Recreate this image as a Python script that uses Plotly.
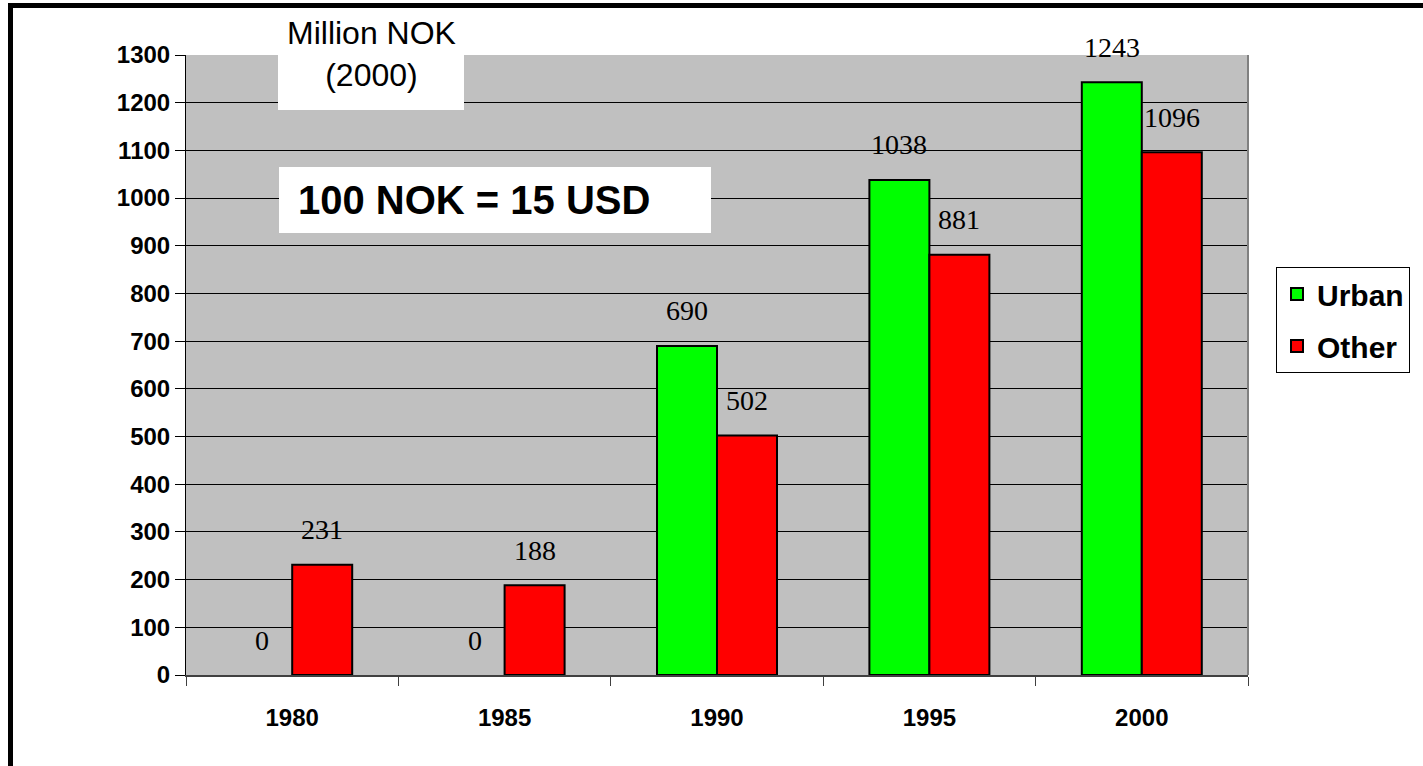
import plotly.graph_objects as go

years = ["1980", "1985", "1990", "1995", "2000"]
urban = [0, 0, 690, 1038, 1243]
other = [231, 188, 502, 881, 1096]
series_names = ["Urban", "Other"]
series_colors = ["#00FF00", "#FF0000"]
y_ticks = list(range(0, 1301, 100))

W, H = 1423, 766
L, R, T, B = 186, 175, 55, 91
pw, ph = W - L - R, H - T - B


def px_x(x):
    return (x - L) / pw


def px_y(y):
    return (H - B - y) / ph


fig = go.Figure()
for name, vals, col in zip(series_names, [urban, other], series_colors):
    fig.add_trace(go.Bar(
        x=years, y=[v if v else None for v in vals], name=name, legendgroup=name,
        marker=dict(color=col, line=dict(color="black", width=2)),
        hoverinfo="skip",
    ))

# data labels (x given as category index)
for vals, shift in zip([urban, other], [-30, 30]):
    for i, v in enumerate(vals):
        fig.add_annotation(
            x=i, y=v, xref="x", yref="y", text=str(v), showarrow=False,
            xshift=shift, yshift=35, yanchor="middle",
            font=dict(family="Liberation Serif", size=28, color="black"),
        )

shapes = [
    # outer frame
    dict(type="rect", xref="paper", yref="paper",
         x0=px_x(10.5), x1=1.4, y0=-0.4, y1=px_y(5.5),
         line=dict(color="black", width=5), fillcolor="rgba(0,0,0,0)", layer="above"),
    # right edge of plot area
    dict(type="line", xref="paper", yref="paper", x0=1, x1=1, y0=0, y1=1,
         line=dict(color="#808080", width=2), layer="above"),
    # white text boxes
    dict(type="rect", xref="paper", yref="paper",
         x0=px_x(278), x1=px_x(464), y0=px_y(110), y1=px_y(8),
         line=dict(width=0), fillcolor="white", layer="above"),
    dict(type="rect", xref="paper", yref="paper",
         x0=px_x(279), x1=px_x(711), y0=px_y(233), y1=px_y(167),
         line=dict(width=0), fillcolor="white", layer="above"),
]

fig.add_annotation(
    xref="paper", yref="paper", x=px_x(371), y=px_y(54), text="Million NOK<br>(2000)",
    showarrow=False, xanchor="center", yanchor="middle",
    font=dict(family="Liberation Sans", size=32, color="black"),
)
fig.add_annotation(
    xref="paper", yref="paper", x=px_x(296), y=px_y(200), text="<b>100 NOK = 15 USD</b>",
    showarrow=False, xanchor="left", yanchor="middle",
    font=dict(family="Liberation Sans", size=40, color="black"),
)

fig.update_layout(
    width=W, height=H,
    margin=dict(l=L, r=R, t=T, b=B, autoexpand=False),
    paper_bgcolor="white", plot_bgcolor="#C0C0C0",
    barmode="group", bargap=0.435, bargroupgap=0,
    shapes=shapes,
    showlegend=True,
    legend=dict(
        x=px_x(1276), y=px_y(267), xanchor="left", yanchor="top",
        bgcolor="white", bordercolor="black", borderwidth=1,
        font=dict(family="Liberation Sans", size=30, color="black", weight="bold"),
        tracegroupgap=10, traceorder="grouped",
    ),
    font=dict(family="Liberation Sans", color="black"),
    hovermode=False,
)
fig.update_xaxes(
    type="category", range=[-0.5, 4.5], showgrid=False, showline=True,
    linecolor="#404040", linewidth=2,
    ticks="outside", tickson="boundaries", ticklen=9, tickcolor="#404040",
    tickfont=dict(family="Liberation Sans", size=24, color="black", weight="bold"),
    ticklabelstandoff=20, tickangle=0,
)
fig.update_yaxes(
    range=[0, 1300], tickvals=y_ticks, showgrid=True, gridcolor="black", gridwidth=1,
    zeroline=False, showline=True, linecolor="black", linewidth=1,
    ticks="outside", ticklen=10, tickcolor="black",
    tickfont=dict(family="Liberation Sans", size=24, color="black", weight="bold"),
)

fig.write_html("out.html", config={"displayModeBar": False},
               post_script="document.body.style.margin='0';")
